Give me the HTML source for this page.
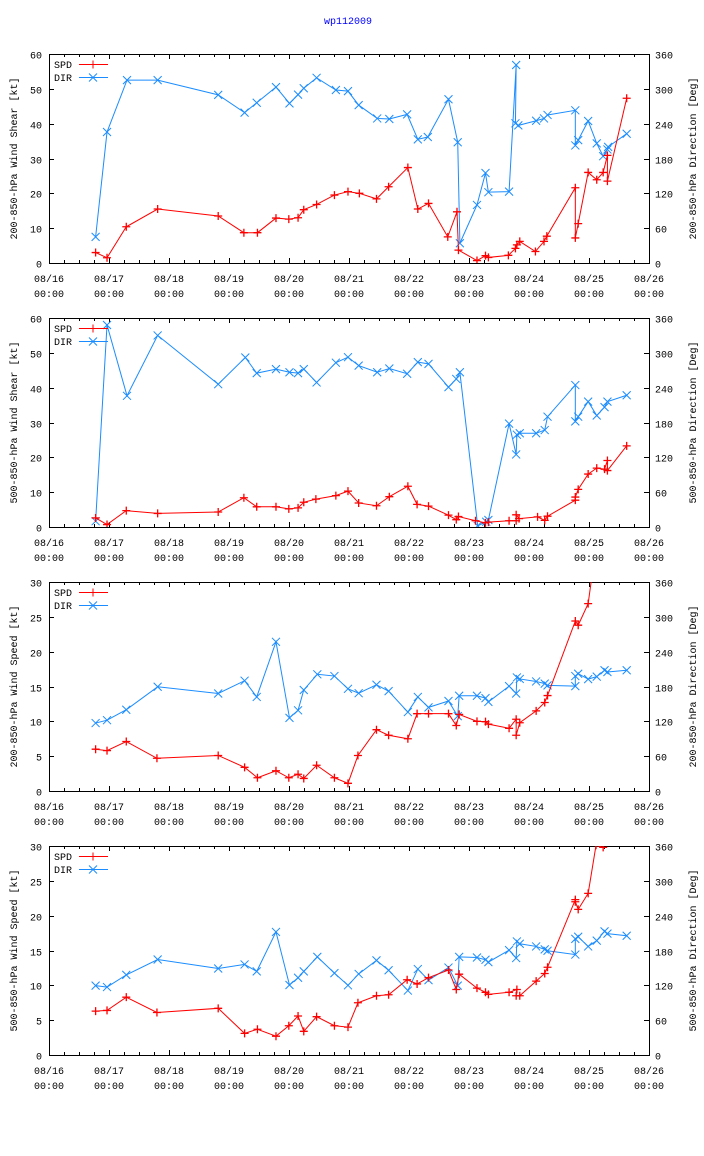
<!DOCTYPE html>
<html><head><meta charset="utf-8">
<style>
html,body{margin:0;padding:0;background:#fff;}
svg{display:block;font-family:"Liberation Mono",monospace;font-size:10px;}
</style></head>
<body>
<svg id="chart" width="704" height="1156" viewBox="0 0 704 1156" xmlns="http://www.w3.org/2000/svg">
<text x="348" y="24" text-anchor="middle" fill="#0000ff">wp112009</text>
</svg>
<script>
const dayLabels = ["08/16","08/17","08/18","08/19","08/20","08/21","08/22","08/23","08/24","08/25","08/26"];
const leftTicks1 = [0,10,20,30,40,50,60];
const leftTicks2 = [0,5,10,15,20,25,30];
const rightTicks = [0,60,120,180,240,300,360];
const panelTitles = ["200-850-hPa Wind Shear [kt]","500-850-hPa Wind Shear [kt]","200-850-hPa Wind Speed [kt]","500-850-hPa Wind Speed [kt]"];
const panelRightTitles = ["200-850-hPa Direction [Deg]","500-850-hPa Direction [Deg]","200-850-hPa Direction [Deg]","500-850-hPa Direction [Deg]"];
const panelMax = [60,60,30,30];

// Panel 1 (times in days since 08/16 00:00)
const spd1T = [0.777,0.967,1.288,1.811,2.820,3.248,3.474,3.783,3.997,4.151,4.246,4.460,4.757,4.983,5.173,5.458,5.660,5.981,6.147,6.325,6.646,6.800,6.824,7.133,7.275,7.323,7.656,7.774,7.798,7.846,8.107,8.250,8.297,8.772,8.772,8.820,8.986,9.129,9.236,9.307,9.307,9.628];
const spd1V = [3.0,1.5,10.4,15.5,13.5,8.7,8.7,12.9,12.6,13.0,15.3,16.8,19.5,20.5,20.0,18.4,21.9,27.4,15.5,17.1,7.5,14.7,3.7,0.7,2.1,1.6,2.2,4.2,5.2,6.2,3.3,6.2,7.7,21.6,7.2,11.3,26.0,23.9,26.0,30.9,23.5,47.3];
const dir1T = [0.777,0.967,1.300,1.811,2.820,3.260,3.462,3.783,4.008,4.151,4.246,4.460,4.781,4.983,5.161,5.470,5.672,5.969,6.147,6.313,6.658,6.812,6.848,7.133,7.275,7.323,7.668,7.786,7.774,7.822,8.119,8.250,8.309,8.772,8.772,8.820,8.986,9.129,9.236,9.307,9.319,9.628];
const dir1V = [45,225.6,315,315,289.6,259,276,303,275,290,301,319,298,296,272,249,248,256,213,217,282,208,34,100,155,122,123,341,240.6,237,245,249,255,263,202.5,211.7,244.6,206,184,195.6,200,222.7];
// Panel 2
const spd2T = [0.777,0.967,1.288,1.811,2.820,3.248,3.462,3.783,3.997,4.151,4.246,4.448,4.781,4.983,5.161,5.458,5.672,5.981,6.135,6.325,6.658,6.788,6.824,7.109,7.275,7.323,7.668,7.786,7.786,7.834,8.143,8.262,8.309,8.772,8.772,8.820,8.986,9.129,9.259,9.307,9.307,9.628];
const spd2V = [2.6,0.7,4.7,3.9,4.3,8.4,5.8,5.8,5.2,5.5,7.1,8.0,9.0,10.3,6.9,6.1,8.7,11.7,6.5,6.0,3.4,2.1,3.0,1.8,1.2,1.4,1.8,1.8,3.5,2.4,2.9,1.9,3.1,7.7,8.6,10.8,15.2,16.9,16.6,19.1,16.2,23.3];
const dir2T = [0.777,0.967,1.300,1.811,2.820,3.272,3.462,3.783,4.008,4.151,4.246,4.460,4.781,4.983,5.161,5.470,5.672,5.969,6.147,6.325,6.658,6.788,6.848,7.145,7.287,7.323,7.668,7.786,7.798,7.846,8.119,8.262,8.309,8.772,8.772,8.820,8.986,9.129,9.259,9.307,9.628];
const dir2V = [10,348,226,330,246,292,265,272,266.5,265,272,249,283,292.5,278,266.5,273,264,284,281,241,255,266.5,2,9,12,178,125,159,161.5,161.5,167,190,244.5,182,190,216,192,206.5,216,227];
// Panel 3
const spd3T = [0.777,0.967,1.288,1.799,2.820,3.260,3.474,3.783,3.997,4.151,4.246,4.460,4.757,4.983,5.149,5.458,5.660,5.981,6.135,6.325,6.658,6.788,6.836,7.133,7.275,7.323,7.668,7.786,7.786,7.846,8.119,8.262,8.309,8.772,8.820,8.986,9.129];
const spd3V = [6.0,5.8,7.1,4.7,5.1,3.4,1.9,2.9,1.9,2.4,1.8,3.7,1.9,1.1,5.1,8.8,8.0,7.5,11.1,11.1,11.1,9.4,11.0,10.0,9.95,9.6,9.0,10.3,8.0,9.8,11.5,12.7,13.7,24.4,23.8,26.9,35.9];
const dir3T = [0.777,0.967,1.288,1.811,2.820,3.260,3.462,3.783,4.008,4.151,4.246,4.472,4.757,4.983,5.161,5.458,5.660,5.981,6.147,6.325,6.658,6.812,6.836,7.133,7.275,7.323,7.668,7.786,7.798,7.846,8.119,8.262,8.309,8.772,8.772,8.820,8.986,9.129,9.259,9.307,9.628];
const dir3V = [117,122,140,179.5,168,190,162,257,126,139,174,201,198,176,168.5,183,172,136,162,144,155,129,164,164,160,153.5,180.6,168,195.6,193,188.7,185,182,180.6,198,202,192.7,197,208,205,208];
// Panel 4
const spd4T = [0.777,0.967,1.288,1.799,2.820,3.260,3.474,3.783,3.997,4.151,4.246,4.460,4.757,4.983,5.149,5.458,5.660,5.969,6.135,6.325,6.658,6.788,6.836,7.133,7.275,7.323,7.668,7.798,7.786,7.846,8.119,8.262,8.309,8.772,8.772,8.820,8.986,9.117,9.236];
const spd4V = [6.3,6.4,8.3,6.1,6.7,3.1,3.7,2.7,4.2,5.6,3.4,5.5,4.2,4.0,7.5,8.5,8.65,10.8,10.2,11.1,12.2,9.4,11.6,9.6,9.0,8.7,9.0,9.4,8.5,8.5,10.6,11.7,12.6,22.3,22.0,20.9,23.2,30.1,29.8];
const dir4T = [0.777,0.967,1.288,1.811,2.820,3.260,3.462,3.783,4.008,4.151,4.246,4.472,4.757,4.983,5.161,5.458,5.660,5.981,6.147,6.325,6.658,6.812,6.836,7.133,7.275,7.323,7.668,7.786,7.798,7.846,8.119,8.262,8.309,8.772,8.772,8.820,8.986,9.129,9.259,9.307,9.628];
const dir4V = [119.5,117,138,164.5,149,156,144,212,120.6,133,144,169,141,120,139.6,163,146,111,148,129,150.6,119.5,169,168,164,160,180.6,167,195.6,191.6,187,182,179.5,173,200,203.7,187,197,213,209,205.4];

const spdT = [spd1T,spd2T,spd3T,spd4T], spdV = [spd1V,spd2V,spd3V,spd4V];
const dirT = [dir1T,dir2T,dir3T,dir4T], dirV = [dir1V,dir2V,dir3V,dir4V];

const NS = "http://www.w3.org/2000/svg";
const svg = document.getElementById("chart");
const X0 = 49, X1 = 649, PH = 209;
const RED = "#ff0000", BLUE = "#1a8cff";
function mk(tag, attrs, parent){ const e=document.createElementNS(NS,tag); for(const k in attrs) e.setAttribute(k,attrs[k]); (parent||svg).appendChild(e); return e; }
function xScale(d){ return X0 + d*60; }

for(let p=0;p<4;p++){
  const top = 54 + p*264, bot = top + PH;
  const g = mk("g",{});
  
  
  const yL = v => bot - v/panelMax[p]*PH;
  const yR = v => bot - v/360*PH;
  const clipId = "clip"+p;
  const cp = mk("clipPath",{id:clipId},g); mk("rect",{x:X0,y:top,width:X1-X0,height:PH},cp);
  const fr = mk("rect",{x:X0+0.5,y:top+0.5,width:X1-X0,height:PH,fill:"none",stroke:"#000","stroke-width":1},g);
  
  
  for(let i=0;i<=40;i++){
    const x = X0 + i*15 + 0.5, len = (i%4===0)?5:3;
    mk("line",{x1:x,y1:bot,x2:x,y2:bot-len,stroke:"#000"},g);
    mk("line",{x1:x,y1:top,x2:x,y2:top+len,stroke:"#000"},g);
  }
  dayLabels.forEach((lab,i)=>{
    const t = mk("text",{x:xScale(i),y:bot+19,"text-anchor":"middle"},g); t.textContent=lab;
    
    
    const t2 = mk("text",{x:xScale(i),y:bot+34,"text-anchor":"middle"},g); t2.textContent="00:00";
    
    
  });
  const lt = p<2?leftTicks1:leftTicks2;
  lt.forEach(v=>{
    const y = Math.round(yL(v))+0.5;
    mk("line",{x1:X0,y1:y,x2:X0+5,y2:y,stroke:"#000"},g);
    const t = mk("text",{x:42,y:y+4,"text-anchor":"end"},g); t.textContent=v;
    
    
  });
  rightTicks.forEach(v=>{
    const y = Math.round(yR(v))+0.5;
    mk("line",{x1:X1-5,y1:y,x2:X1,y2:y,stroke:"#000"},g);
    const t = mk("text",{x:655,y:y+4,"text-anchor":"start"},g); t.textContent=v;
    
    
  });
  const cy = (top+bot)/2;
  const yt = mk("text",{x:0,y:0,"text-anchor":"middle",transform:`translate(17,${cy}) rotate(-90)`},g); yt.textContent=panelTitles[p];
  
  
  const yt2 = mk("text",{x:0,y:0,"text-anchor":"middle",transform:`translate(696,${cy}) rotate(-90)`},g); yt2.textContent=panelRightTitles[p];
  
  

  const dg = mk("g",{"clip-path":`url(#${clipId})`},g);
  const dpts = dirT[p].map((t,i)=>[xScale(t), yR(dirV[p][i])]);
  const dl = mk("polyline",{points:dpts.map(q=>q.join(",")).join(" "),fill:"none",stroke:BLUE,"stroke-width":1},dg);
  
  
  dpts.forEach(q=>{
    const m = mk("path",{d:`M${q[0]-4},${q[1]-4}L${q[0]+4},${q[1]+4}M${q[0]-4},${q[1]+4}L${q[0]+4},${q[1]-4}`,stroke:BLUE,"stroke-width":1},dg);
    
    
  });
  const spts = spdT[p].map((t,i)=>[xScale(t), yL(spdV[p][i])]);
  const sl = mk("polyline",{points:spts.map(q=>q.join(",")).join(" "),fill:"none",stroke:RED,"stroke-width":1},dg);
  
  
  spts.forEach(q=>{
    const m = mk("path",{d:`M${q[0]-4},${q[1]}L${q[0]+4},${q[1]}M${q[0]},${q[1]-4}L${q[0]},${q[1]+4}`,stroke:RED,"stroke-width":1.3},dg);
    
    
  });
  const lg = mk("g",{},g);
  
  
  const l1 = mk("text",{x:54,y:top+14},lg); l1.textContent="SPD";
  
  
  mk("line",{x1:79,y1:top+10.5,x2:108,y2:top+10.5,stroke:RED},lg);
  mk("path",{d:`M89,${top+10.5}H97M93,${top+6.5}V${top+14.5}`,stroke:RED},lg);
  const l2 = mk("text",{x:54,y:top+27},lg); l2.textContent="DIR";
  
  
  mk("line",{x1:79,y1:top+23.5,x2:108,y2:top+23.5,stroke:BLUE},lg);
  mk("path",{d:`M89,${top+19.5}L97,${top+27.5}M89,${top+27.5}L97,${top+19.5}`,stroke:BLUE},lg);
}
</script>
</body></html>
